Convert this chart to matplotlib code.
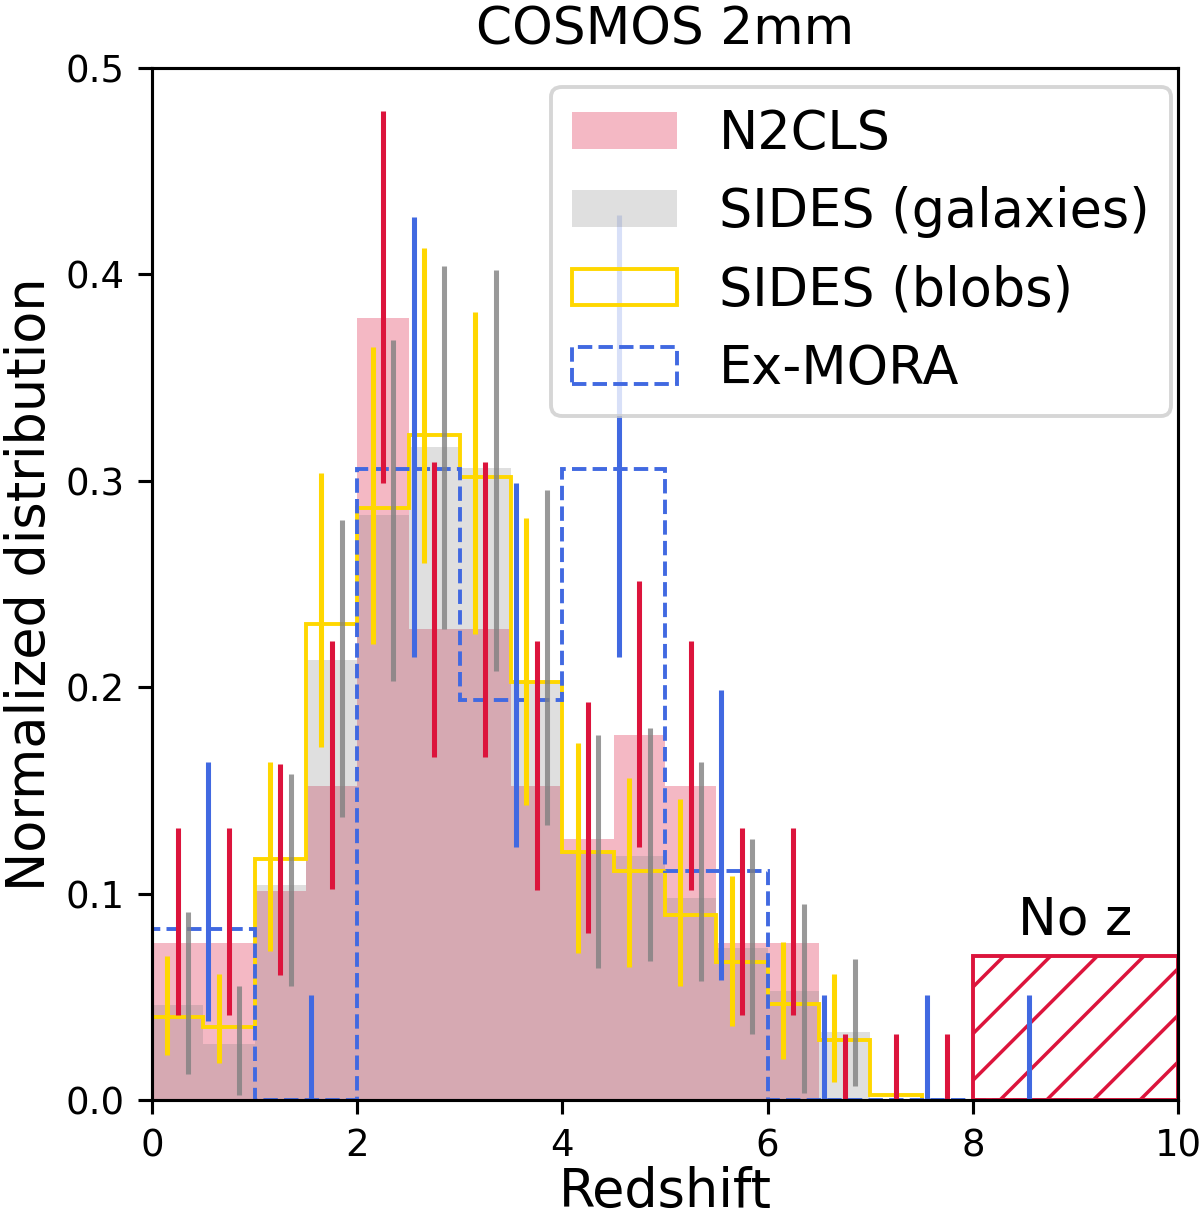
import numpy as np
import matplotlib
matplotlib.use("Agg")
import matplotlib.pyplot as plt
from matplotlib.patches import Patch

# bin edges in redshift
edges_half = np.arange(0, 8.01, 0.5)
edges_one = np.arange(0, 9.01, 1.0)

# normalized distributions
n2cls = [0.076, 0.076, 0.1015, 0.152, 0.379, 0.228, 0.228, 0.152,
         0.1265, 0.177, 0.152, 0.076, 0.076]
sides_gal = [0.046, 0.027, 0.104, 0.213, 0.2834, 0.3165, 0.306, 0.203,
             0.120, 0.118, 0.098, 0.0735, 0.053, 0.033]
sides_blob = [0.040, 0.0355, 0.117, 0.2306, 0.287, 0.322, 0.302, 0.2027,
              0.120, 0.111, 0.0896, 0.0667, 0.0464, 0.029, 0.0024]
exmora = [0.083, 0.0, 0.3055, 0.194, 0.3055, 0.111, 0.0, 0.0, 0.0]
noz_n2cls = 0.070

# error bar ranges (low, high)
n2cls_lo = [0.041, 0.041, 0.0606, 0.102, 0.299, 0.166, 0.166, 0.1017,
            0.0808, 0.1227, 0.1017, 0.041, 0.041, 0.0, 0.0, 0.0]
n2cls_hi = [0.132, 0.132, 0.163, 0.2224, 0.479, 0.309, 0.309, 0.2224,
            0.1927, 0.2516, 0.2224, 0.132, 0.132, 0.032, 0.032, 0.032]
gal_lo = [0.0126, 0.0024, 0.055, 0.137, 0.203, 0.228, 0.208, 0.133,
          0.0638, 0.0673, 0.0577, 0.032, 0.0032, 0.007]
gal_hi = [0.091, 0.055, 0.158, 0.281, 0.368, 0.404, 0.402, 0.2955,
          0.177, 0.180, 0.164, 0.1265, 0.0948, 0.0683]
blob_lo = [0.022, 0.018, 0.072, 0.171, 0.221, 0.260, 0.226, 0.143,
           0.071, 0.0646, 0.055, 0.0359, 0.020, 0.0086]
blob_hi = [0.070, 0.061, 0.164, 0.304, 0.365, 0.413, 0.382, 0.282,
           0.173, 0.156, 0.1458, 0.1087, 0.0767, 0.061]
mora_lo = [0.0385, 0.0, 0.2148, 0.1227, 0.2148, 0.058, 0.0, 0.0, 0.0]
mora_hi = [0.164, 0.051, 0.428, 0.299, 0.429, 0.1986, 0.051, 0.051, 0.051]


def centers(edges, n, shift):
	c = 0.5 * (edges[:-1] + edges[1:])
	return c[:n] + shift


def main():
	plt.rcParams['hatch.linewidth'] = 0.9
	fig = plt.figure(figsize=(1200 / 280, 1218 / 280), dpi=280)
	ax = fig.add_axes([152 / 1200, 118 / 1218, 1026 / 1200, 1032 / 1218])

	ax.stairs(n2cls, edges_half[:len(n2cls) + 1], fill=True, color='crimson',
			  alpha=0.3, lw=0)
	ax.stairs(sides_gal, edges_half[:len(sides_gal) + 1], fill=True, color='grey',
			  alpha=0.25, lw=0)
	ax.stairs(sides_blob, edges_half[:len(sides_blob) + 1], color='gold', lw=1.0)
	ax.stairs(exmora, edges_one, color='royalblue', lw=1.0, linestyle='--')

	ax.bar(9, noz_n2cls, width=2, fill=False, hatch='//', edgecolor='crimson', lw=1.0)
	ax.text(9, 0.080, "No z", ha='center', va='baseline', fontsize=13.3)

	ax.vlines(centers(edges_half, len(blob_lo), -0.1), blob_lo, blob_hi, color='gold', lw=1.3)
	ax.vlines(centers(edges_half, len(n2cls_lo), 0.0), n2cls_lo, n2cls_hi, color='crimson', lw=1.3)
	ax.vlines(centers(edges_half, len(gal_lo), 0.1), gal_lo, gal_hi, color='grey', alpha=0.8, lw=1.3)
	ax.vlines(centers(edges_one, len(mora_lo), 0.05), mora_lo, mora_hi, color='royalblue', lw=1.3)

	ax.set_xlim(0, 10)
	ax.set_ylim(0, 0.5)
	ax.set_xticks([0, 2, 4, 6, 8, 10])
	ax.set_yticks([0.0, 0.1, 0.2, 0.3, 0.4, 0.5])
	ax.tick_params(labelsize=9.5)
	ax.set_xlabel("Redshift", fontsize=13.5)
	ax.set_ylabel("Normalized distribution", fontsize=13.5)
	ax.xaxis.set_label_coords(0.5, -0.064)
	ax.yaxis.set_label_coords(-0.094, 0.5)
	ax.set_title("COSMOS 2mm", fontsize=13.3)

	handles = [
		Patch(facecolor='crimson', alpha=0.3, lw=0),
		Patch(facecolor='grey', alpha=0.25, lw=0),
		Patch(facecolor='none', edgecolor='gold', lw=1.0),
		Patch(facecolor='none', edgecolor='royalblue', lw=1.0, linestyle='--'),
	]
	labels = ["N2CLS", "SIDES (galaxies)", "SIDES (blobs)", "Ex-MORA"]
	ax.legend(handles, labels, loc='upper right', bbox_to_anchor=(0.9932, 0.9816),
			  borderaxespad=0, fontsize=13.5)

	fig.savefig("out.png", dpi=280)


if __name__ == '__main__':
	main()
